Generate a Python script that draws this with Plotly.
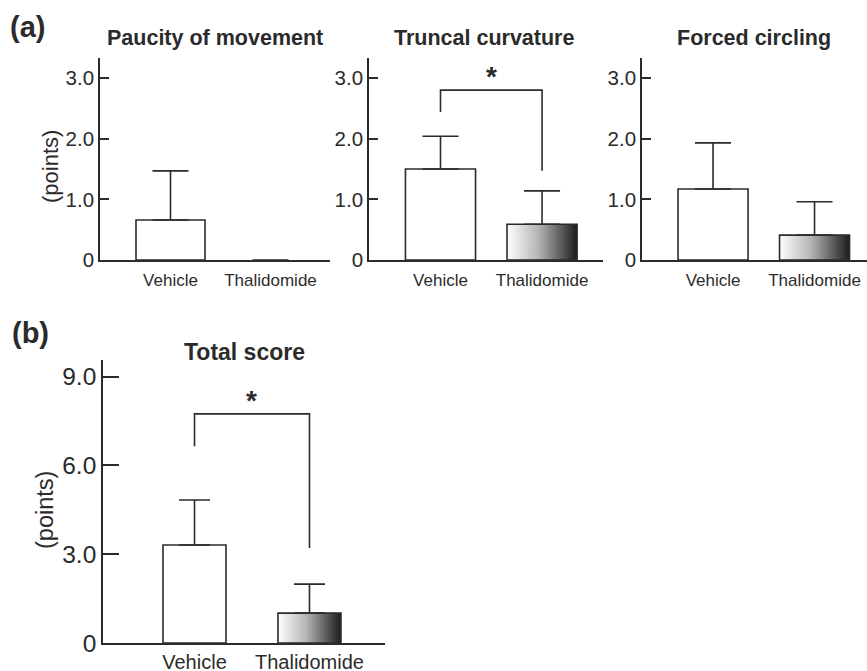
import plotly.graph_objects as go

W, H = 867, 671

# ---------------- data ----------------
categories = ["Vehicle", "Thalidomide"]

paucity_mean = [0.66, 0.0]
paucity_sem = [0.81, 0.0]

truncal_mean = [1.50, 0.59]
truncal_sem = [0.54, 0.55]

circling_mean = [1.17, 0.41]
circling_sem = [0.76, 0.55]

total_mean = [3.31, 1.01]
total_sem = [1.52, 0.98]

a_ticks = [0, 1, 2, 3]
a_ticklabels = ["0", "1.0", "2.0", "3.0"]
b_ticks = [0, 3, 6, 9]
b_ticklabels = ["0", "3.0", "6.0", "9.0"]

# significance brackets: (left foot, top, right foot, star height)
truncal_bracket = [2.44, 2.80, 1.47, 2.80]
total_bracket = [6.65, 7.74, 3.21, 7.74]

# ---------------- style ----------------
INK = "#2b2b2b"
LW = 1.6
FONT = "Liberation Sans, Arial, Helvetica, sans-serif"
GRAD = [[0, "#ffffff"], [0.45, "#b4b4b4"], [1, "#1c1c1c"]]


def px(x):
    return x / W


def py(y):
    return 1 - y / H


fig = go.Figure()

panels = [
    dict(mean=paucity_mean, sem=paucity_sem, xd=(100, 330), yd=(260, 58),
         xr=[-0.705, 1.595], yr=[0, 3.33], w=0.69, cap=18,
         ticks=a_ticks, tl=a_ticklabels, tf=20.5, cf=17, ticklen=9, so=4),
    dict(mean=truncal_mean, sem=truncal_sem, xd=(369, 603), yd=(260, 58),
         xr=[-0.704, 1.60], yr=[0, 3.33], w=0.69, cap=18,
         ticks=a_ticks, tl=a_ticklabels, tf=20.5, cf=17, ticklen=9, so=4),
    dict(mean=circling_mean, sem=circling_sem, xd=(642, 867), yd=(260, 58),
         xr=[-0.70, 1.517], yr=[0, 3.33], w=0.69, cap=18,
         ticks=a_ticks, tl=a_ticklabels, tf=20.5, cf=17, ticklen=9, so=4),
    dict(mean=total_mean, sem=total_sem, xd=(103, 385), yd=(643, 360),
         xr=[-0.796, 1.657], yr=[0, 9.56], w=0.548, cap=15.5,
         ticks=b_ticks, tl=b_ticklabels, tf=24.5, cf=20, ticklen=16, so=0),
]

layout_axes = {}
for i, p in enumerate(panels, start=1):
    xa = "x" if i == 1 else f"x{i}"
    ya = "y" if i == 1 else f"y{i}"
    xkey = "xaxis" if i == 1 else f"xaxis{i}"
    ykey = "yaxis" if i == 1 else f"yaxis{i}"
    xs = list(range(len(categories)))

    # bars (vehicle white, thalidomide drawn as gradient polygon) + error bars
    fig.add_trace(go.Bar(
        x=xs, y=p["mean"], width=p["w"], xaxis=xa, yaxis=ya,
        marker=dict(color=["white", "rgba(0,0,0,0)"],
                    line=dict(color=INK, width=[LW, 0])),
        error_y=dict(type="data", array=p["sem"], arrayminus=[0] * len(xs),
                     symmetric=False, width=p["cap"], thickness=LW, color=INK),
        hoverinfo="skip", showlegend=False,
    ))
    # gradient-filled thalidomide bar
    c, v, hw = xs[1], p["mean"][1], p["w"] / 2
    if v > 0:
        fig.add_trace(go.Scatter(
            x=[c - hw, c + hw, c + hw, c - hw, c - hw],
            y=[0, 0, v, v, 0], xaxis=xa, yaxis=ya,
            mode="lines", fill="toself",
            fillgradient=dict(type="horizontal", colorscale=GRAD),
            line=dict(color=INK, width=LW),
            hoverinfo="skip", showlegend=False,
        ))

    layout_axes[xkey] = dict(
        domain=[px(p["xd"][0]), px(p["xd"][1])], range=p["xr"], anchor=ya,
        tickvals=xs, ticktext=categories, ticks="", showline=True,
        linecolor=INK, linewidth=LW, showgrid=False, zeroline=False,
        ticklabelstandoff=p["so"], ticklabeloverflow="allow", automargin=False,
        tickfont=dict(family=FONT, size=p["cf"], color=INK), fixedrange=True,
    )
    layout_axes[ykey] = dict(
        domain=[py(p["yd"][0]), py(p["yd"][1])], range=p["yr"], anchor=xa,
        tickvals=p["ticks"], ticktext=p["tl"], ticks="inside", automargin=False,
        ticklen=p["ticklen"], tickwidth=LW, tickcolor=INK, showline=True,
        linecolor=INK, linewidth=LW, showgrid=False, zeroline=False,
        tickfont=dict(family=FONT, size=p["tf"], color=INK), fixedrange=True,
    )

# significance brackets
for (xa, ya, br) in [("x2", "y2", truncal_bracket), ("x4", "y4", total_bracket)]:
    fig.add_trace(go.Scatter(
        x=[0, 0, 1, 1], y=[br[0], br[1], br[1], br[2]], xaxis=xa, yaxis=ya,
        mode="lines", line=dict(color=INK, width=LW),
        hoverinfo="skip", showlegend=False,
    ))

annotations = []
for (xa, ya, br) in [("x2", "y2", truncal_bracket), ("x4", "y4", total_bracket)]:
    annotations.append(dict(
        x=0.5, y=br[3], xref=xa, yref=ya, text="<b>*</b>", showarrow=False,
        yanchor="bottom", yshift=-4, font=dict(family=FONT, size=28, color=INK),
    ))

titles = [("Paucity of movement", 215, 38, 21.5), ("Truncal curvature", 484, 38, 21.5),
          ("Forced circling", 754, 38, 21.5), ("Total score", 244, 352, 23)]
for t, x, y, s in titles:
    annotations.append(dict(
        x=px(x), y=py(y), xref="paper", yref="paper", text=f"<b>{t}</b>",
        showarrow=False, xanchor="center", yanchor="middle",
        font=dict(family=FONT, size=s, color=INK),
    ))

for t, x, y in [("(a)", 8, 27), ("(b)", 10, 333)]:
    annotations.append(dict(
        x=px(x), y=py(y), xref="paper", yref="paper", text=f"<b>{t}</b>",
        showarrow=False, xanchor="left", yanchor="middle",
        font=dict(family=FONT, size=29, color=INK),
    ))

for x, y, s in [(50, 167, 22), (45, 510, 23.5)]:
    annotations.append(dict(
        x=px(x), y=py(y), xref="paper", yref="paper", text="(points)",
        showarrow=False, textangle=-90, xanchor="center", yanchor="middle",
        font=dict(family=FONT, size=s, color=INK),
    ))

fig.update_layout(
    width=W, height=H,
    margin=dict(l=0, r=0, t=0, b=0, pad=0, autoexpand=False),
    paper_bgcolor="white", plot_bgcolor="white", showlegend=False,
    annotations=annotations, **layout_axes,
)

# remove the browser's default page margin and clip the figure to its box
POST = (
    "document.body.style.margin='0';"
    "document.documentElement.style.overflow='hidden';"
    "document.querySelectorAll('.main-svg').forEach(function(s){s.style.overflow='hidden';});"
    "document.querySelectorAll('.plotly-graph-div,.svg-container').forEach(function(d){d.style.overflow='hidden';});"
)
fig.write_html("out.html", config={"displayModeBar": False}, post_script=POST)
